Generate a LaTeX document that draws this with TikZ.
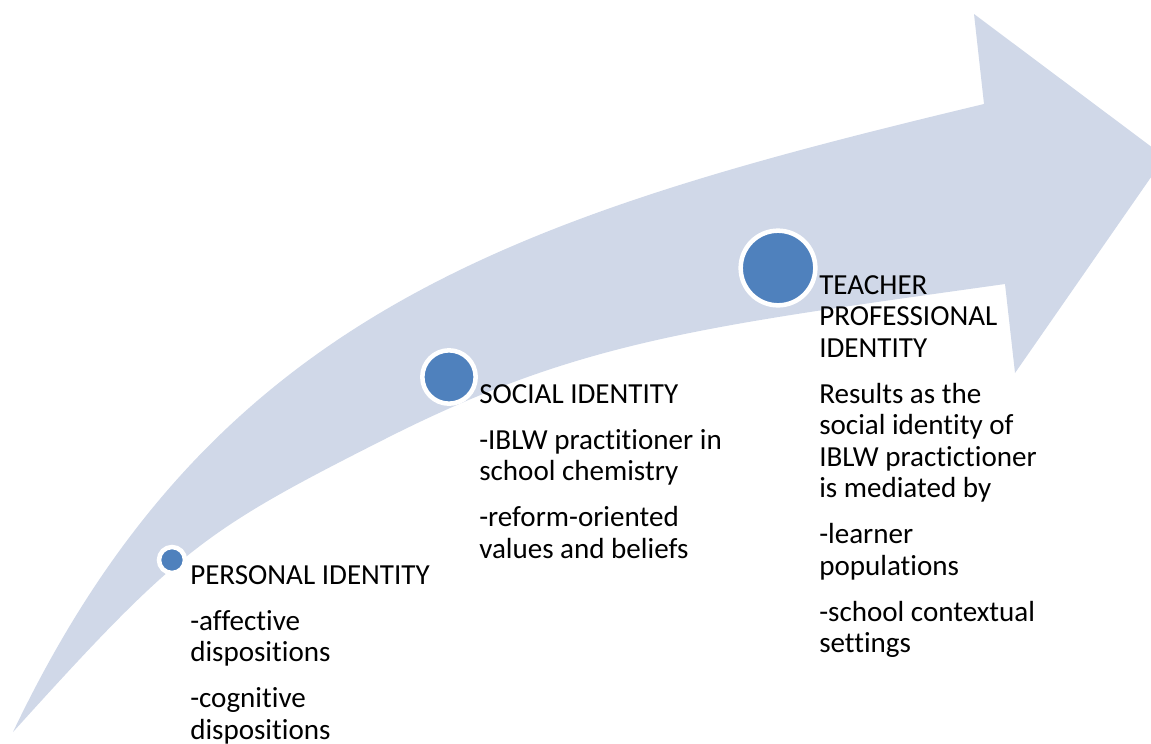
\documentclass[tikz,border=0pt]{standalone}
\usepackage{fontspec}
\setmainfont[Ligatures={NoCommon}]{Carlito}
\definecolor{arrowfill}{HTML}{D0D8E8}
\definecolor{dotblue}{HTML}{4F81BD}
\begin{document}
\begin{tikzpicture}[x=0.75pt,y=-0.75pt,
  dot/.style={circle, fill=dotblue, draw=white, line width=3.4pt, inner sep=0pt},
  txt/.style={anchor=north west, inner sep=0pt, align=left, text=black,
    font=\fontsize{21.8pt}{23.6pt}\selectfont}]
\useasboundingbox (0,0) rectangle (1151,743);
\clip (0,0) rectangle (1151,743);
% curved arrow
\fill[arrowfill] (13,732) .. controls (213,312) and (516,216) .. (984,104)
  -- (974,14) -- (1165,157) -- (1015,373) -- (1005,284)
  .. controls (699,327) and (578,341) .. (383,440)
  .. controls (203,531) and (177.5,550) .. (13,732) -- cycle;
% dots
\node[dot, minimum size=19.5pt] (c1) at (172,560) {};
\node[dot, minimum size=40pt] (c2) at (449,377) {};
\node[dot, minimum size=56pt] (c3) at (778,268) {};
% texts
\node[txt] (t1) at (190,565) {PERSONAL IDENTITY\\[11pt]-affective\\dispositions\\[11pt]-cognitive\\dispositions};
\node[txt] (t2) at (479,384) {SOCIAL IDENTITY\\[11pt]-IBLW practitioner in\\school chemistry\\[11pt]-reform-oriented\\values and beliefs};
\node[txt] (t3) at (819,275) {TEACHER\\PROFESSIONAL\\IDENTITY\\[11pt]Results as the\\social identity of\\IBLW practictioner\\is mediated by\\[11pt]-learner\\populations\\[11pt]-school contextual\\settings};
\end{tikzpicture}
\end{document}
